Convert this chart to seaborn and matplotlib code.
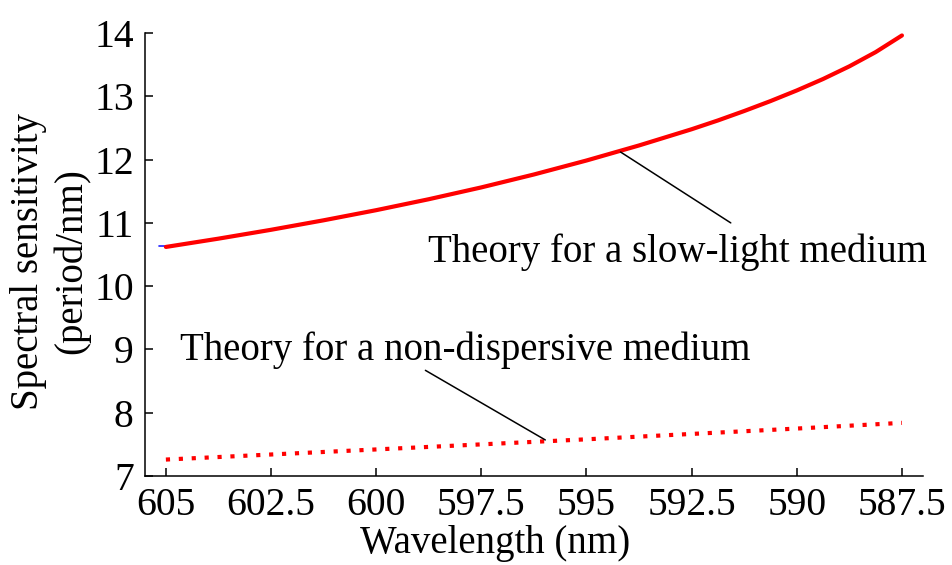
import matplotlib
matplotlib.use("Agg")
import matplotlib.pyplot as plt
import seaborn as sns
import pandas as pd

# Data
wl_slow = [605, 603.75, 602.5, 601.25, 600, 598.75, 597.5, 596.25, 595, 593.75, 592.5,
           591.875, 591.25, 590.625, 590, 589.375, 588.75, 588.125, 587.5]
sens_slow = [10.62, 10.751, 10.891, 11.041, 11.201, 11.374, 11.561, 11.765, 11.986, 12.224, 12.48,
             12.619, 12.768, 12.925, 13.093, 13.274, 13.474, 13.699, 13.962]
wl_nd = [605, 600, 597.5, 595, 590, 587.5]
sens_nd = [7.26, 7.42, 7.50, 7.58, 7.75, 7.84]
wl_blue = [605.17, 605.0]
sens_blue = [10.64, 10.64]
xticks = [605, 602.5, 600, 597.5, 595, 592.5, 590, 587.5]
xtick_labels = ["605", "602.5", "600", "597.5", "595", "592.5", "590", "587.5"]
yticks = [7, 8, 9, 10, 11, 12, 13, 14]

sns.set_style("ticks", {"text.color": "black", "axes.labelcolor": "black",
                        "xtick.color": "black", "ytick.color": "black",
                        "axes.edgecolor": "black"})
plt.rcParams['font.family'] = ['Liberation Serif', 'DejaVu Serif']

fig = plt.figure(figsize=(9.53, 5.65), dpi=100)
ax = fig.add_axes([0.152, 0.1575, 0.8165, 0.784])

df_slow = pd.DataFrame({"wl": wl_slow, "s": sens_slow})
df_nd = pd.DataFrame({"wl": wl_nd, "s": sens_nd})
df_blue = pd.DataFrame({"wl": wl_blue, "s": sens_blue})

sns.lineplot(data=df_blue, x="wl", y="s", ax=ax, color="#2020ff", lw=1.2, sort=False)
sns.lineplot(data=df_slow, x="wl", y="s", ax=ax, color="#ff0000", lw=3, sort=False)
sns.lineplot(data=df_nd, x="wl", y="s", ax=ax, color="#ff0000", lw=3, sort=False,
             dash_capstyle='butt')
ax.lines[-1].set_dashes((1, 2.1))

ax.set_xlim(605.5, 587.0)
ax.set_ylim(7, 14)
ax.set_xticks(xticks)
ax.set_xticklabels(xtick_labels)
ax.set_yticks(yticks)

for s in ["top", "right"]:
    ax.spines[s].set_visible(False)
for s in ["left", "bottom"]:
    ax.spines[s].set_linewidth(1.1)
    ax.spines[s].set_color("black")
ax.tick_params(direction="in", length=6, width=1.1, labelsize=28.5, colors="black",
               labelcolor="black", pad=8)

ax.set_xlabel("Wavelength (nm)", fontsize=28, color="black")
ax.set_ylabel("Spectral sensitivity\n(period/nm)", fontsize=28, linespacing=1.2, color="black")
ax.xaxis.set_label_coords(0.45, -0.11)
ax.yaxis.set_label_coords(-0.07, 0.485)

ax.text(598.76, 10.54, "Theory for a slow-light medium", fontsize=28, ha="left", va="center", color="black")
ax.text(604.67, 8.99, "Theory for a non-dispersive medium", fontsize=28, ha="left", va="center", color="black")
ax.plot([594.19, 591.57], [12.12, 11.0], color="black", lw=1.1)
ax.plot([598.83, 595.98], [8.67, 7.57], color="black", lw=1.1)

fig.savefig("out.png", dpi=100)
